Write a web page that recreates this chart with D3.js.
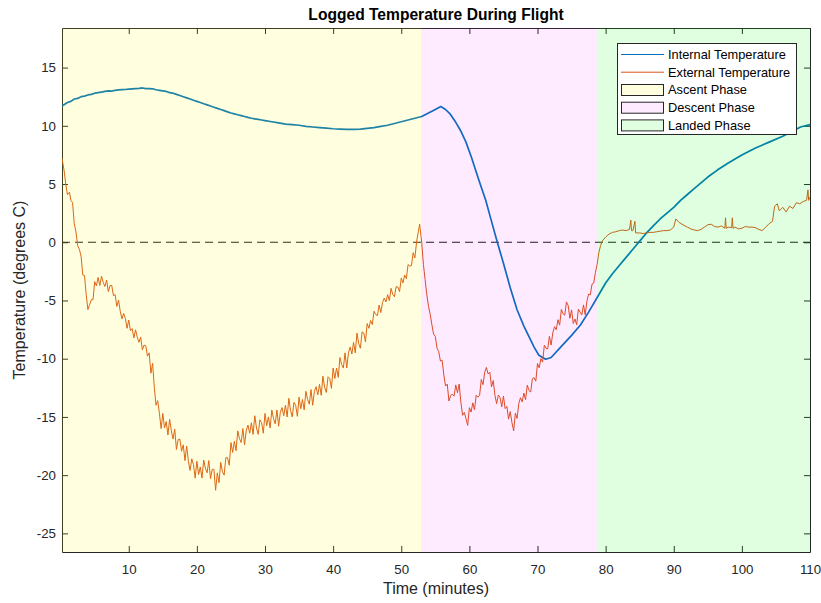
<!DOCTYPE html>
<html>
<head>
<meta charset="utf-8">
<script src="https://cdn.jsdelivr.net/npm/d3@7"></script>
<style>
  html, body { margin: 0; padding: 0; background: #ffffff; }
  svg { display: block; font-family: "Liberation Sans", Arial, Helvetica, sans-serif; }
</style>
</head>
<body>
<svg id="chart" width="821" height="603"></svg>
<script>
// Logged flight temperatures, [minutes, degrees C]
const internalTemp = [
  [0.2, 11.7], [0.6, 11.85], [1, 12.0], [1.5, 12.1], [2, 12.3], [2.5, 12.35], [3, 12.5], [3.5, 12.55],
  [4, 12.65], [4.5, 12.7], [5, 12.8], [5.5, 12.85], [6, 12.9], [6.5, 12.95], [7, 13.0], [7.5, 12.98],
  [8, 13.05], [8.5, 13.08], [9, 13.1], [9.5, 13.12], [10, 13.15], [10.5, 13.18], [11, 13.2], [11.5, 13.22],
  [12, 13.25], [12.5, 13.2], [13, 13.2], [13.5, 13.18], [14, 13.1], [14.5, 13.05], [15, 13.0], [15.5, 12.95],
  [16, 12.85], [16.5, 12.8], [17, 12.7], [17.5, 12.6], [18, 12.5], [18.5, 12.4], [19, 12.3], [19.5, 12.2],
  [20, 12.1], [20.5, 12.0], [21, 11.9], [21.5, 11.8], [22, 11.7], [22.5, 11.6], [23, 11.5], [23.5, 11.4],
  [24, 11.3], [24.5, 11.2], [25, 11.1], [25.5, 11.02], [26, 10.95], [26.5, 10.88], [27, 10.8], [27.5, 10.72],
  [28, 10.65], [28.5, 10.6], [29, 10.55], [29.5, 10.5], [30, 10.45], [31, 10.35], [32, 10.25], [33, 10.15],
  [34, 10.1], [35, 10.05], [36, 9.95], [37, 9.9], [38, 9.85], [39, 9.8], [40, 9.75], [41, 9.72],
  [42, 9.7], [43, 9.7], [44, 9.72], [45, 9.78], [46, 9.85], [47, 9.95], [48, 10.05], [49, 10.2],
  [50, 10.35], [51, 10.5], [52, 10.65], [53, 10.8], [54, 11.1], [55, 11.4], [55.8, 11.65], [56.5, 11.4],
  [57.2, 11.0], [58, 10.3], [58.7, 9.6], [59.5, 8.6], [60.3, 7.3], [61.3, 5.5], [62.4, 3.6], [63.2, 1.9],
  [64.1, 0.0], [65, -1.8], [66, -3.9], [67, -5.8], [68, -7.2], [69, -8.4], [69.5, -9.0], [70.2, -9.7],
  [71.2, -10.05], [72, -9.9], [73.4, -9.0], [75, -8.0], [76.3, -7.1], [77.5, -6.0], [78.8, -4.7], [80, -3.5],
  [81, -2.7], [82, -2.0], [83, -1.3], [84, -0.6], [85, 0.1], [86, 0.8], [87, 1.4], [88, 2.0],
  [89, 2.5], [90, 3.0], [91, 3.6], [92, 4.1], [93, 4.6], [94, 5.1], [95, 5.6], [96.4, 6.2],
  [98, 6.8], [100, 7.5], [102, 8.1], [104, 8.6], [106, 9.1], [108, 9.7], [108.6, 9.9], [110, 10.1]
];

const externalTemp = [
  [0.2, 7.2], [0.5, 6.2], [0.75, 5.0], [1.0, 4.1], [1.3, 4.3], [1.5, 3.6], [1.75, 3.4], [2.0, 1.6],
  [2.25, 0.9], [2.5, -0.3], [2.75, -0.6],
  [3.0, -1.2], [3.25, -2.81], [3.5, -2.86], [3.75, -4.47], [4.0, -5.78], [4.25, -5.36], [4.5, -4.94], [4.75, -4.94],
  [5.0, -3.38], [5.25, -3.74], [5.5, -3.02], [5.75, -3.72], [6.0, -2.92], [6.25, -3.45], [6.5, -3.8], [6.75, -3.24],
  [7.0, -4.24], [7.25, -3.73], [7.5, -3.7], [7.75, -4.58], [8.0, -4.5], [8.25, -5.51], [8.5, -4.96], [8.75, -5.92],
  [9.0, -6.58], [9.25, -6.11], [9.5, -6.54], [9.75, -7.39], [10.0, -6.68], [10.25, -7.59], [10.5, -7.42], [10.75, -8.22],
  [11.0, -7.52], [11.25, -8.15], [11.5, -8.6], [11.75, -8.14], [12.0, -9.24], [12.25, -8.83], [12.5, -8.9], [12.75, -9.78],
  [13.0, -9.5], [13.25, -11.25], [13.5, -10.4], [13.75, -12.45], [14.0, -14.0], [14.25, -13.6], [14.5, -14.7], [14.75, -16.0],
  [15.0, -14.7], [15.25, -15.95], [15.5, -15.4], [15.75, -16.55], [16.0, -15.2], [16.25, -16.2], [16.5, -16.9], [16.75, -16.05],
  [17.0, -17.8], [17.25, -16.95], [17.5, -16.9], [17.75, -17.95], [18.0, -17.4], [18.25, -18.75], [18.5, -17.5], [18.75, -18.8],
  [19.0, -19.6], [19.25, -18.6], [19.5, -19.1], [19.75, -20.25], [20.0, -18.8], [20.25, -19.95], [20.5, -19.3], [20.75, -20.25],
  [21.0, -18.7], [21.25, -19.4], [21.5, -19.8], [21.75, -18.75], [22.0, -20.3], [22.25, -19.5], [22.5, -19.5], [22.75, -21.3],
  [23.0, -19.8], [23.25, -20.65], [23.5, -18.9], [23.75, -19.7], [24.0, -20.0], [24.25, -18.5], [24.5, -18.5], [24.75, -19.15],
  [25.0, -17.2], [25.25, -18.05], [25.5, -17.1], [25.75, -17.9], [26.0, -16.2], [26.25, -16.85], [26.5, -17.2], [26.75, -16.0],
  [27.0, -17.4], [27.25, -16.15], [27.5, -15.7], [27.75, -16.4], [28.0, -15.5], [28.25, -16.5], [28.5, -14.9], [28.75, -15.95],
  [29.0, -16.5], [29.25, -15.25], [29.5, -15.5], [29.75, -16.4], [30.0, -14.7], [30.25, -15.75], [30.5, -15.0], [30.75, -15.95],
  [31.0, -14.4], [31.25, -15.15], [31.5, -15.6], [31.75, -14.4], [32.0, -15.8], [32.25, -14.6], [32.5, -14.2], [32.75, -14.9],
  [33.0, -14.0], [33.25, -15.0], [33.5, -13.4], [33.75, -14.45], [34.0, -15.0], [34.25, -13.75], [34.5, -14.0], [34.75, -14.95],
  [35.0, -13.3], [35.25, -14.3], [35.5, -13.5], [35.75, -14.4], [36.0, -12.8], [36.25, -13.5], [36.5, -13.9], [36.75, -12.65],
  [37.0, -14.0], [37.25, -12.8], [37.5, -12.4], [37.75, -13.1], [38.0, -12.2], [38.25, -13.15], [38.5, -11.5], [38.75, -12.45],
  [39.0, -12.9], [39.25, -11.55], [39.5, -11.7], [39.75, -12.55], [40.0, -10.8], [40.25, -11.7], [40.5, -10.8], [40.75, -11.6],
  [41.0, -9.9], [41.25, -10.5], [41.5, -10.8], [41.75, -9.5], [42.0, -10.8], [42.25, -9.5], [42.5, -9.0], [42.75, -9.6],
  [43.0, -8.6], [43.25, -9.5], [43.5, -7.8], [43.75, -8.7], [44.0, -9.1], [44.25, -7.7], [44.5, -7.8], [44.75, -8.55],
  [45.0, -6.98], [45.25, -7.39], [45.5, -6.72], [45.75, -7.07], [46.0, -5.92], [46.25, -6.2], [46.5, -6.3], [46.75, -5.39],
  [47.0, -6.04], [47.25, -5.18], [47.5, -4.8], [47.75, -5.13], [48.0, -4.5], [48.25, -5.01], [48.5, -3.96], [48.75, -4.47],
  [49.0, -4.68], [49.25, -3.81], [49.5, -3.84], [49.75, -4.24], [50.0, -3.08], [50.25, -3.49], [50.5, -2.82], [50.75, -3.12],
  [51.0, -1.92], [51.25, -2.05], [51.5, -2.0], [51.75, -0.89], [52.0, -1.34], [52.25, 0.02], [52.5, 0.9], [52.7, 1.55],
  [52.9, 0.5], [53.0, 0.0], [53.25, -1.9], [53.5, -3.2], [53.75, -4.5], [54.0, -5.5], [54.25, -6.2], [54.5, -7.1],
  [54.75, -7.9], [55.0, -8.1], [55.25, -9.1], [55.5, -9.4], [55.75, -10.2], [56.0, -10.14], [56.25, -11.4], [56.5, -12.35],
  [56.75, -12.18], [57.0, -13.63], [57.25, -13.16], [57.5, -13.05], [57.75, -13.21], [58.0, -12.25], [58.25, -12.92], [58.5, -12.17],
  [58.75, -13.74], [59.0, -14.86], [59.25, -14.62], [59.5, -15.13], [59.75, -15.73], [60.0, -14.21], [60.25, -14.58], [60.5, -13.79],
  [60.75, -14.39], [61.0, -13.14], [61.25, -13.3], [61.5, -13.15], [61.75, -11.78], [62.0, -12.23], [62.25, -11.16], [62.5, -10.75],
  [62.75, -11.31], [63.0, -11.15], [63.25, -12.42], [63.5, -11.87], [63.75, -13.14], [64.0, -13.86], [64.25, -13.12], [64.5, -13.33],
  [64.75, -14.13], [65.0, -13.21], [65.25, -14.28], [65.5, -14.09], [65.75, -15.19], [66.0, -14.54], [66.25, -15.5], [66.5, -16.2],
  [66.75, -14.68], [67.0, -15.13], [67.25, -13.86], [67.5, -13.35], [67.75, -13.71], [68.0, -12.95], [68.25, -13.52], [68.5, -12.27],
  [68.75, -12.74], [69.0, -12.86], [69.25, -11.72], [69.5, -11.63], [69.75, -11.93], [70.0, -10.41], [70.25, -10.78], [70.5, -9.99],
  [70.75, -10.29], [71.0, -8.84], [71.25, -9.1], [71.5, -9.15], [71.75, -8.08], [72.0, -8.83], [72.25, -7.76], [72.5, -7.25],
  [72.75, -7.51], [73.0, -6.65], [73.25, -7.12], [73.5, -5.77], [73.75, -6.14], [74.0, -6.26], [74.25, -5.12], [74.5, -5.43],
  [74.75, -6.53], [75.0, -5.81], [75.25, -6.98], [75.5, -6.59], [75.75, -7.09], [76.0, -5.74], [76.25, -6.0], [76.5, -6.25],
  [76.75, -5.38], [77.0, -6.23], [77.25, -5.06], [77.5, -4.45], [77.75, -4.51], [78.0, -3.6], [78.25, -3.5], [78.5, -2.6],
  [78.75, -1.9], [79.0, -0.9], [79.25, -0.3], [79.5, 0.1], [80.0, 0.45], [80.5, 0.7], [81.0, 0.85], [81.5, 0.9],
  [82.0, 1.0], [82.5, 1.05], [83.0, 1.0], [83.5, 1.1], [83.7, 1.9], [83.8, 1.0], [84.0, 1.0], [84.3, 1.8],
  [84.4, 0.8], [85.0, 0.8], [85.5, 0.75], [86.0, 0.8], [86.5, 0.85], [87.0, 0.85], [87.5, 0.9], [88.0, 0.95],
  [88.5, 1.0], [89.0, 1.0], [89.5, 1.05], [90.0, 1.3], [90.3, 2.0], [90.8, 1.7], [91.5, 1.45], [92.0, 1.3],
  [92.5, 1.15], [93.0, 1.05], [93.5, 1.0], [94.0, 1.1], [94.5, 1.3], [95.0, 1.5], [95.5, 1.55], [96.0, 1.35],
  [96.5, 1.3], [97.0, 1.4], [97.5, 1.2], [97.6, 2.1], [97.7, 1.2], [98.0, 1.3], [98.5, 1.25], [98.6, 2.1],
  [98.7, 1.2], [99.0, 1.3], [99.5, 1.15], [100.0, 1.2], [100.5, 1.35], [101.0, 1.3], [101.5, 1.3], [102.0, 1.25],
  [102.5, 1.1], [103.0, 1.0], [103.5, 1.3], [104.0, 1.6], [104.5, 1.8], [104.8, 3.1], [105.2, 3.3], [105.5, 2.7],
  [106.0, 3.0], [106.5, 2.6], [107.0, 3.1], [107.5, 2.9], [108.0, 3.4], [108.5, 3.3], [109.0, 3.5], [109.5, 3.6],
  [109.7, 4.5], [109.8, 3.6], [110.0, 3.9]
];

// Flight phases, start/end in minutes
const phaseNames = ["Ascent Phase", "Descent Phase", "Landed Phase"];
const phaseStart = [0.2, 52.9, 78.8];
const phaseEnd = [52.9, 78.8, 110];
const phaseColors = ["#ffff00", "#ff00ff", "#00ff00"];
const phaseAlpha = [0.12, 0.08, 0.12];

const xTicks = [10, 20, 30, 40, 50, 60, 70, 80, 90, 100, 110];
const yTicks = [-25, -20, -15, -10, -5, 0, 5, 10, 15];
const xDomain = [0.2, 110];
const yDomain = [-26.6, 18.4];

const seriesNames = ["Internal Temperature", "External Temperature"];
const seriesColors = ["#0072bd", "#d95319"];

(function draw() {
  const svg = d3.select("#chart");
  const plotLeft = 62, plotRight = 810, plotTop = 28, plotBottom = 552;
  const axisColor = "#262626";
  const plainNumber = d => String(d);

  const x = d3.scaleLinear().domain(xDomain).range([plotLeft, plotRight]);
  const y = d3.scaleLinear().domain(yDomain).range([plotBottom, plotTop]);

  svg.append("defs").append("clipPath").attr("id", "plotClip")
    .append("rect").attr("x", plotLeft).attr("y", plotTop)
    .attr("width", plotRight - plotLeft).attr("height", plotBottom - plotTop);

  // Axes with inward ticks on all four sides
  function styleAxis(g) {
    g.selectAll("path.domain").attr("stroke", axisColor).attr("stroke-width", 1);
    g.selectAll(".tick line").attr("stroke", axisColor);
    g.selectAll(".tick text").attr("fill", axisColor).attr("font-size", 13.3)
      .attr("font-family", "Liberation Sans, Arial, sans-serif");
  }
  svg.append("g").attr("transform", `translate(0,${plotBottom})`)
    .call(d3.axisBottom(x).tickValues(xTicks).tickFormat(plainNumber)
      .tickSizeInner(-6).tickSizeOuter(0).tickPadding(13))
    .call(styleAxis);
  svg.append("g").attr("transform", `translate(0,${plotTop})`)
    .call(d3.axisTop(x).tickValues(xTicks).tickSizeInner(-6).tickSizeOuter(0).tickFormat(""))
    .call(styleAxis);
  svg.append("g").attr("transform", `translate(${plotLeft},0)`)
    .call(d3.axisLeft(y).tickValues(yTicks).tickFormat(plainNumber)
      .tickSizeInner(-6).tickSizeOuter(0).tickPadding(6))
    .call(styleAxis);
  svg.append("g").attr("transform", `translate(${plotRight},0)`)
    .call(d3.axisRight(y).tickValues(yTicks).tickSizeInner(-6).tickSizeOuter(0).tickFormat(""))
    .call(styleAxis);

  const plot = svg.append("g").attr("clip-path", "url(#plotClip)");

  // Zero reference line
  plot.append("line")
    .attr("x1", x(xDomain[0])).attr("x2", x(xDomain[1]))
    .attr("y1", y(0)).attr("y2", y(0))
    .attr("stroke", "#1a1a1a").attr("stroke-width", 1.2)
    .attr("stroke-dasharray", "8,5");

  const line = d3.line().x(d => x(d[0])).y(d => y(d[1]));

  plot.append("path").datum(internalTemp)
    .attr("d", line).attr("fill", "none")
    .attr("stroke", seriesColors[0]).attr("stroke-width", 1.7)
    .attr("stroke-linejoin", "round");

  plot.append("path").datum(externalTemp)
    .attr("d", line).attr("fill", "none")
    .attr("stroke", seriesColors[1]).attr("stroke-width", 1)
    .attr("stroke-linejoin", "round");

  // Translucent phase shading over the data
  svg.append("g").selectAll("rect")
    .data(phaseNames.map((n, i) => ({ name: n, s: phaseStart[i], e: phaseEnd[i], c: phaseColors[i], a: phaseAlpha[i] })))
    .join("rect")
    .attr("x", d => x(d.s)).attr("width", d => x(d.e) - x(d.s))
    .attr("y", y(yDomain[1])).attr("height", y(yDomain[0]) - y(yDomain[1]))
    .attr("fill", d => d.c).attr("fill-opacity", d => d.a);

  // Title and axis labels
  svg.append("text").attr("x", (plotLeft + plotRight) / 2).attr("y", 20)
    .attr("text-anchor", "middle").attr("font-size", 15.6).attr("font-weight", "bold")
    .attr("fill", "#000").text("Logged Temperature During Flight");

  svg.append("text").attr("x", (plotLeft + plotRight) / 2).attr("y", 594)
    .attr("text-anchor", "middle").attr("font-size", 16).attr("fill", axisColor)
    .text("Time (minutes)");

  svg.append("text").attr("transform", `translate(25,${(plotTop + plotBottom) / 2}) rotate(-90)`)
    .attr("text-anchor", "middle").attr("font-size", 16).attr("fill", axisColor)
    .text("Temperature (degrees C)");

  // Legend
  const lg = svg.append("g");
  lg.append("rect").attr("x", 617.5).attr("y", 43.5).attr("width", 179).attr("height", 91)
    .attr("fill", "#ffffff").attr("stroke", axisColor).attr("stroke-width", 1);
  const rowY = [54.5, 72.2, 90, 107.7, 125.4];
  seriesNames.forEach((n, i) => {
    lg.append("line").attr("x1", 621).attr("x2", 664).attr("y1", rowY[i]).attr("y2", rowY[i])
      .attr("stroke", seriesColors[i]).attr("stroke-width", 1);
    lg.append("text").attr("x", 668).attr("y", rowY[i] + 4.4).attr("font-size", 12.8)
      .attr("fill", "#000").text(n);
  });
  phaseNames.forEach((n, i) => {
    const ry = rowY[i + 2];
    lg.append("rect").attr("x", 621.5).attr("y", ry - 5.5).attr("width", 42).attr("height", 11)
      .attr("fill", phaseColors[i]).attr("fill-opacity", phaseAlpha[i])
      .attr("stroke", axisColor).attr("stroke-width", 1);
    lg.append("text").attr("x", 668).attr("y", ry + 4.4).attr("font-size", 12.8)
      .attr("fill", "#000").text(n);
  });
})();
</script>
</body>
</html>
